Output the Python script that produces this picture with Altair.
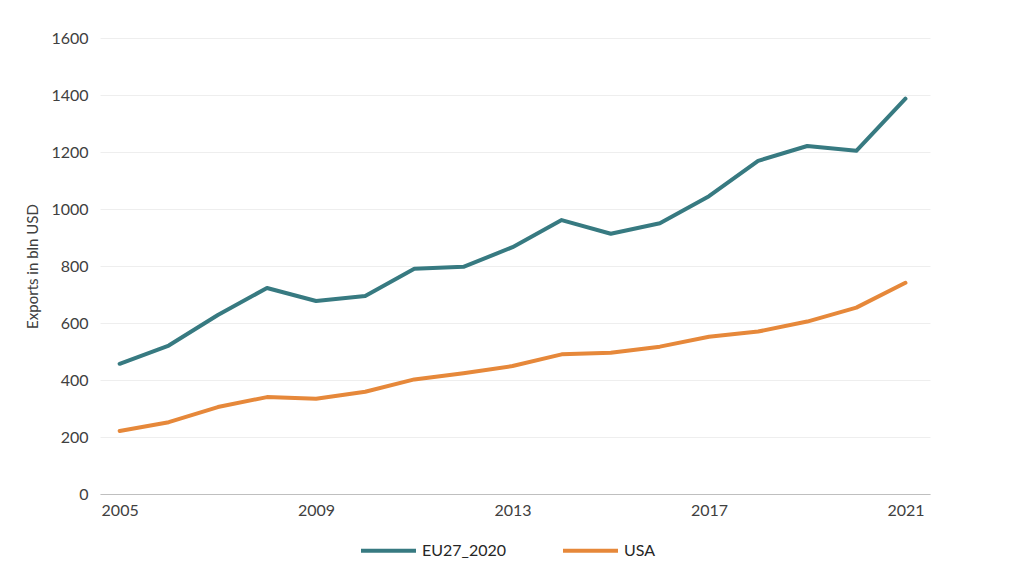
import altair as alt
import pandas as pd

years = list(range(2005, 2022))
eu = [457, 521, 628, 723, 677, 695, 790, 797, 866, 961, 913, 950, 1045, 1169, 1221, 1204, 1387]
usa = [221, 252, 305, 340, 334, 359, 402, 424, 449, 490, 496, 517, 552, 570, 605, 654, 741]
series = ["EU27_2020", "USA"]
colors = ["#377A81", "#E6883A"]

rows = []
for name, vals in zip(series, [eu, usa]):
    for y, v in zip(years, vals):
        rows.append({"year": y, "value": v, "series": name})
df = pd.DataFrame(rows)

FONT = "Lato"

chart = alt.Chart(df).mark_line(strokeWidth=4, strokeCap="round", strokeJoin="round").encode(
    x=alt.X("year:Q",
            scale=alt.Scale(domain=[2004.6, 2021.5], nice=False, zero=False),
            axis=alt.Axis(values=[2005, 2009, 2013, 2017, 2021], format="d", title=None,
                          grid=False, ticks=False, domain=True, domainColor="#BFBFBF",
                          domainWidth=1.2, labelPadding=8, labelFontSize=16,
                          labelColor="#404040", labelFont=FONT)),
    y=alt.Y("value:Q",
            scale=alt.Scale(domain=[0, 1600], nice=False),
            axis=alt.Axis(values=list(range(0, 1601, 200)), format="d", title="Exports in bln USD",
                          grid=True, gridColor="#EEEEEE", gridWidth=1, ticks=False,
                          domain=False, labelPadding=12, labelFontSize=16,
                          labelColor="#404040", labelFont=FONT, titleFont=FONT,
                          titleFontSize=15, titleFontWeight="normal", titleColor="#404040",
                          titlePadding=10)),
    color=alt.Color("series:N",
                    scale=alt.Scale(domain=series, range=colors),
                    legend=alt.Legend(title=None, orient="none", direction="horizontal",
                                      legendX=259, legendY=483,
                                      symbolType="stroke", symbolSize=3025,
                                      symbolStrokeWidth=4, labelFontSize=16,
                                      labelFont=FONT, labelColor="#262626",
                                      columnPadding=48, labelOffset=4)),
).properties(
    width=830, height=456,
    autosize=alt.AutoSizeParams(type="none"),
    padding={"left": 92, "top": 30, "right": 82, "bottom": 74},
).configure_view(stroke=None)

chart.save("out.html", embed_options={"renderer": "svg", "actions": False})
